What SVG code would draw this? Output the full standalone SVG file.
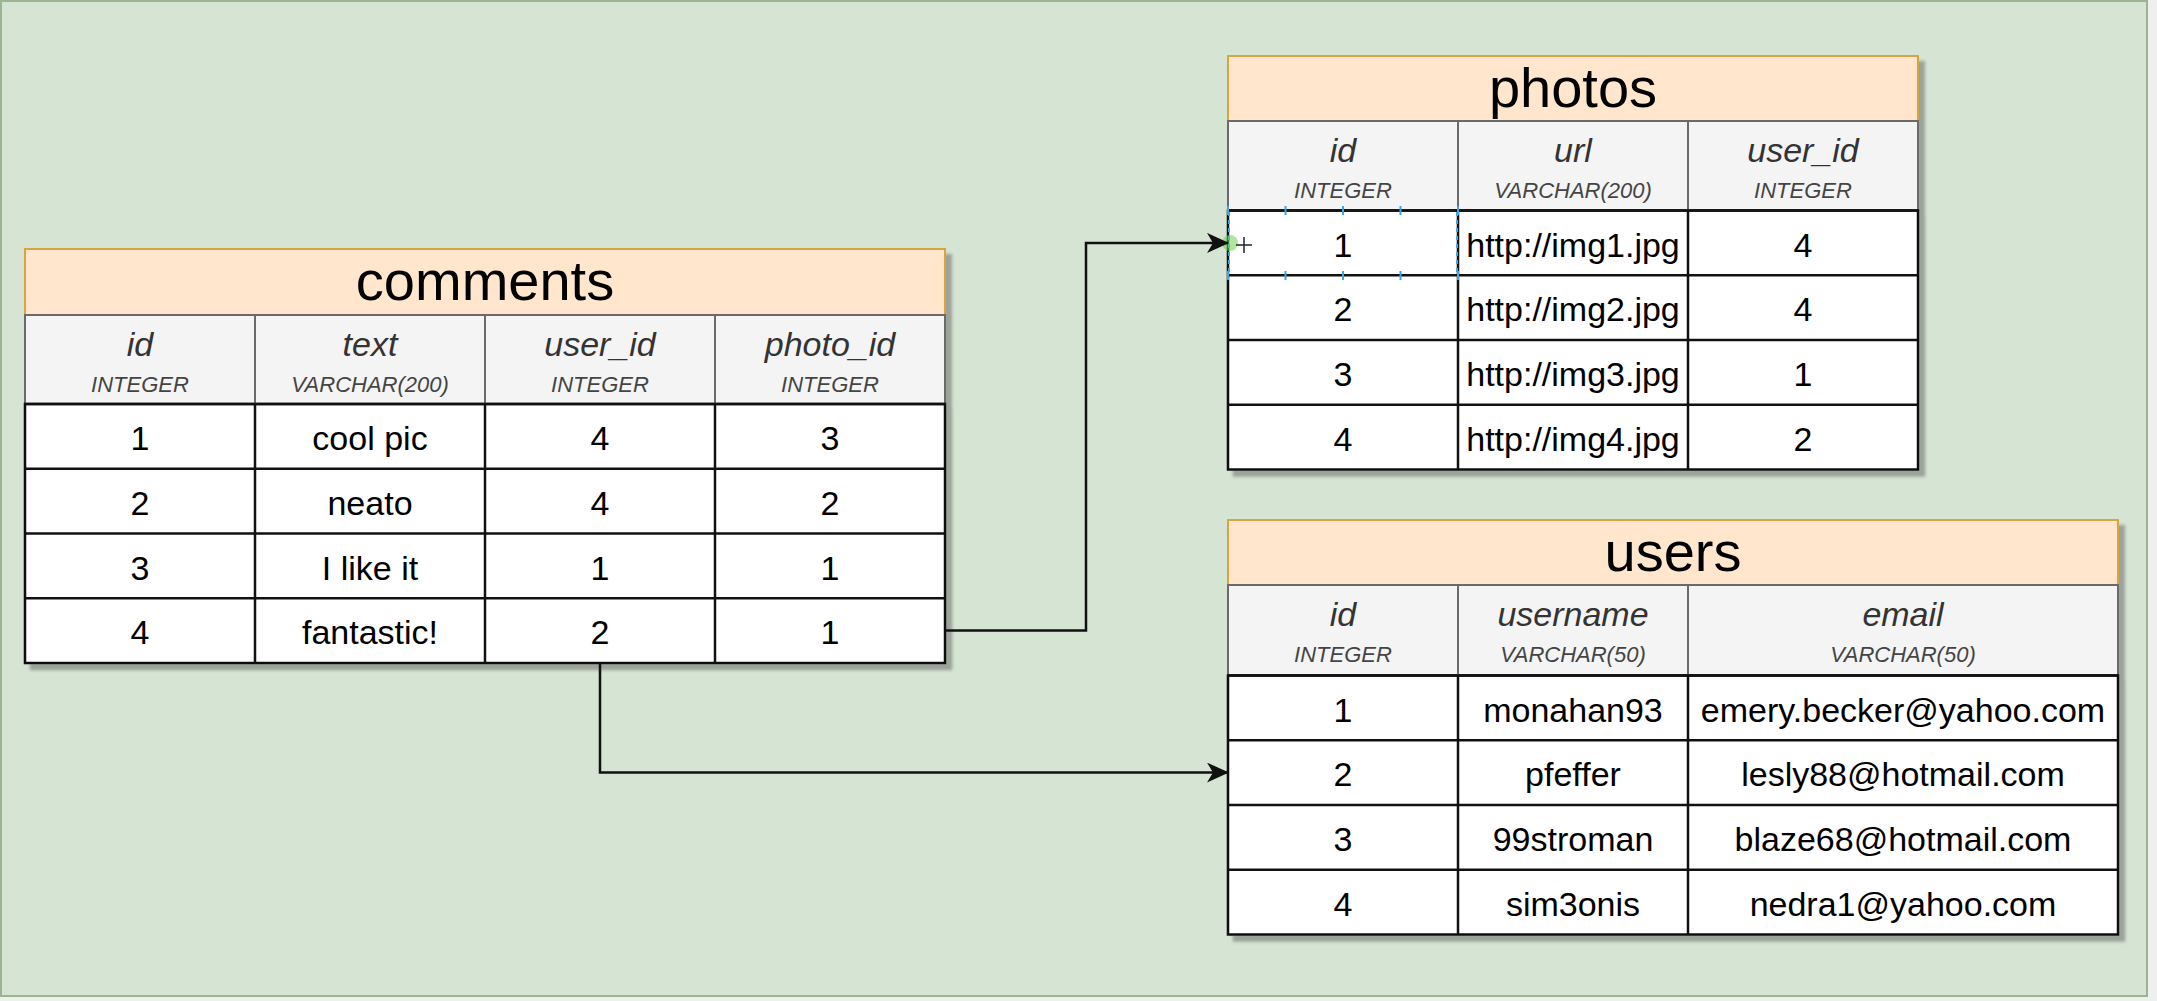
<svg xmlns="http://www.w3.org/2000/svg" width="2157" height="1001" viewBox="0 0 2157 1001">
<style>
.bg{fill:#d6e4d4;stroke:#9bb592;stroke-width:2}
.hd{fill:#ffe6cc;stroke:#d9a441;stroke-width:2}
.ch{fill:#f4f4f4;stroke:#6a6a6a;stroke-width:2}
.cell{fill:#ffffff;stroke:#111111;stroke-width:2.5}
.chl{stroke:#6a6a6a;stroke-width:2;fill:none}
.dl{stroke:#111111;stroke-width:2.5;fill:none}
.title{font-family:"Liberation Sans",Arial,sans-serif;font-size:56px;fill:#000;text-anchor:middle}
.nm{font-family:"Liberation Sans",Arial,sans-serif;font-size:34px;font-style:italic;fill:#333;text-anchor:middle}
.ty{font-family:"Liberation Sans",Arial,sans-serif;font-size:22px;font-style:italic;fill:#444;text-anchor:middle}
.v{font-family:"Liberation Sans",Arial,sans-serif;font-size:34px;fill:#000;text-anchor:middle}
.conn{fill:none;stroke:#111;stroke-width:2.5}
.sel{stroke:#3aa7e0;stroke-width:2;fill:none}
</style>
<defs>
<marker id="arrow" viewBox="0 0 22 20" refX="21" refY="10" markerWidth="22" markerHeight="20" markerUnits="userSpaceOnUse" orient="auto">
<path d="M0,0 L22,10 L0,20 L6,10 Z" fill="#111"/>
</marker>
<filter id="shadow" x="-5%" y="-5%" width="110%" height="115%">
<feDropShadow dx="6" dy="6" stdDeviation="1.5" flood-color="#555" flood-opacity="0.45"/>
</filter>
</defs>
<rect x="0" y="0" width="2157" height="1001" fill="#eef0ee"/>
<rect class="bg" x="1" y="1" width="2146" height="995"/>

<g id="comments">
<g filter="url(#shadow)">
<rect class="hd" x="25" y="249" width="920" height="66"/>
<rect class="ch" x="25" y="315" width="920" height="89"/>
<rect class="cell" x="25" y="404" width="920" height="259"/>
</g>
<path class="chl" d="M255,315V404M485,315V404M715,315V404"/>
<path class="dl" d="M25,404H945M25,468.75H945M25,533.5H945M25,598.25H945M255,404V663M485,404V663M715,404V663"/>
<text class="title" x="485" y="300">comments</text>
<text class="nm" x="140" y="356">id</text><text class="ty" x="140" y="392">INTEGER</text>
<text class="nm" x="370" y="356">text</text><text class="ty" x="370" y="392">VARCHAR(200)</text>
<text class="nm" x="600" y="356">user_id</text><text class="ty" x="600" y="392">INTEGER</text>
<text class="nm" x="830" y="356">photo_id</text><text class="ty" x="830" y="392">INTEGER</text>
<text class="v" x="140" y="450">1</text><text class="v" x="370" y="450">cool pic</text><text class="v" x="600" y="450">4</text><text class="v" x="830" y="450">3</text>
<text class="v" x="140" y="515">2</text><text class="v" x="370" y="515">neato</text><text class="v" x="600" y="515">4</text><text class="v" x="830" y="515">2</text>
<text class="v" x="140" y="580">3</text><text class="v" x="370" y="580">I like it</text><text class="v" x="600" y="580">1</text><text class="v" x="830" y="580">1</text>
<text class="v" x="140" y="644">4</text><text class="v" x="370" y="644">fantastic!</text><text class="v" x="600" y="644">2</text><text class="v" x="830" y="644">1</text>
</g>

<g id="photos">
<g filter="url(#shadow)">
<rect class="hd" x="1228" y="56" width="690" height="65"/>
<rect class="ch" x="1228" y="121" width="690" height="89.5"/>
<rect class="cell" x="1228" y="210.5" width="690" height="259"/>
</g>
<path class="chl" d="M1458,121V210.5M1688,121V210.5"/>
<path class="dl" d="M1228,210.5H1918M1228,275.25H1918M1228,340H1918M1228,404.75H1918M1458,210.5V469.5M1688,210.5V469.5"/>
<text class="title" x="1573" y="107">photos</text>
<text class="nm" x="1343" y="162">id</text><text class="ty" x="1343" y="198">INTEGER</text>
<text class="nm" x="1573" y="162">url</text><text class="ty" x="1573" y="198">VARCHAR(200)</text>
<text class="nm" x="1803" y="162">user_id</text><text class="ty" x="1803" y="198">INTEGER</text>
<text class="v" x="1343" y="256.5">1</text><text class="v" x="1573" y="256.5">http://img1.jpg</text><text class="v" x="1803" y="256.5">4</text>
<text class="v" x="1343" y="321.25">2</text><text class="v" x="1573" y="321.25">http://img2.jpg</text><text class="v" x="1803" y="321.25">4</text>
<text class="v" x="1343" y="386">3</text><text class="v" x="1573" y="386">http://img3.jpg</text><text class="v" x="1803" y="386">1</text>
<text class="v" x="1343" y="450.75">4</text><text class="v" x="1573" y="450.75">http://img4.jpg</text><text class="v" x="1803" y="450.75">2</text>
<g id="selection">
<path class="sel" stroke-dasharray="4,4" d="M1229,212V274M1457,212V274"/>
<path class="sel" d="M1285.5,206V215M1343,206V215M1400.5,206V215M1285.5,271V280M1343,271V280M1400.5,271V280M1228,206V215M1458,206V215M1228,271V280M1458,271V280"/>
<circle cx="1230" cy="243" r="8" fill="#6fcf50" fill-opacity="0.55"/>
<path d="M1236,245H1252M1244,237V253" stroke="#222" stroke-width="1.5" fill="none"/>
</g>
</g>

<g id="users">
<g filter="url(#shadow)">
<rect class="hd" x="1228" y="520" width="890" height="65"/>
<rect class="ch" x="1228" y="585" width="890" height="90.5"/>
<rect class="cell" x="1228" y="675.5" width="890" height="259"/>
</g>
<path class="chl" d="M1458,585V675.5M1688,585V675.5"/>
<path class="dl" d="M1228,675.5H2118M1228,740.25H2118M1228,805H2118M1228,869.75H2118M1458,675.5V934.5M1688,675.5V934.5"/>
<text class="title" x="1673" y="571">users</text>
<text class="nm" x="1343" y="626">id</text><text class="ty" x="1343" y="662">INTEGER</text>
<text class="nm" x="1573" y="626">username</text><text class="ty" x="1573" y="662">VARCHAR(50)</text>
<text class="nm" x="1903" y="626">email</text><text class="ty" x="1903" y="662">VARCHAR(50)</text>
<text class="v" x="1343" y="721.5">1</text><text class="v" x="1573" y="721.5">monahan93</text><text class="v" x="1903" y="721.5">emery.becker@yahoo.com</text>
<text class="v" x="1343" y="786.25">2</text><text class="v" x="1573" y="786.25">pfeffer</text><text class="v" x="1903" y="786.25">lesly88@hotmail.com</text>
<text class="v" x="1343" y="851">3</text><text class="v" x="1573" y="851">99stroman</text><text class="v" x="1903" y="851">blaze68@hotmail.com</text>
<text class="v" x="1343" y="915.75">4</text><text class="v" x="1573" y="915.75">sim3onis</text><text class="v" x="1903" y="915.75">nedra1@yahoo.com</text>
</g>

<g id="connectors">
<path class="conn" d="M945,630.6H1086V242.9H1228" marker-end="url(#arrow)"/>
<path class="conn" d="M600,663V772.6H1228" marker-end="url(#arrow)"/>
</g>
</svg>
